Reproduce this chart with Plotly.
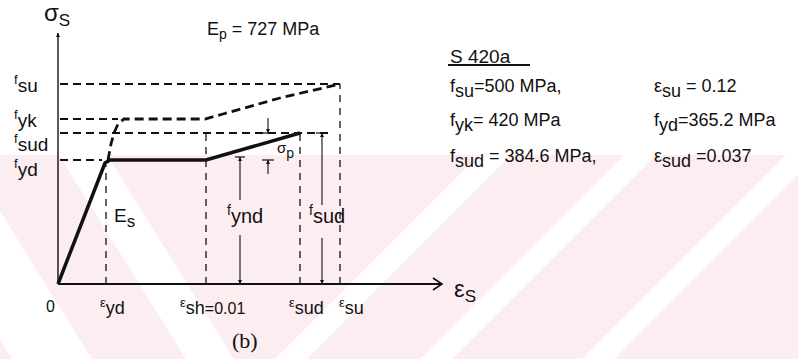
import plotly.graph_objects as go

# ---------------- data ----------------
steel_grade = "S 420a"
E_p_val = 727            # MPa
f_su_val = 500           # MPa
f_yk_val = 420           # MPa
f_sud_val = 384.6        # MPa
f_yd_val = 365.2         # MPa
eps_su_val = 0.12
eps_sud_val = 0.037
eps_sh_val = 0.01

# schematic (not-to-scale) diagram positions
strain_keys = ["0", "yd", "sh", "sud", "su"]
strain_pos = [0, 48, 148, 242, 282]
stress_keys = ["yd", "sud", "yk", "su"]
stress_pos = [124, 151, 165, 200]

# design curve (solid)
design_x = [0, 44, 47, 52, 148, 242]
design_y = [0, 114, 121, 124, 124, 151]
# characteristic curve (dashed)
char_x = [50, 53, 56, 60, 66, 147, 165, 222, 282]
char_y = [124, 140, 151, 160, 165, 165, 170, 186, 200]

# dimension marks: x position (schematic)
x_fynd = 182
x_fsud = 264
x_sigp = 210
axis_x_end = 384
axis_y_end = 251

EPS = dict(zip(strain_keys, strain_pos))
SIG = dict(zip(stress_keys, stress_pos))

FONT = "Liberation Sans, Arial, sans-serif"
BLACK = "#111111"

fig = go.Figure()


def line(xs, ys, width=1.5, dash=None, color=BLACK):
    fig.add_trace(go.Scatter(x=xs, y=ys, mode="lines",
                             line=dict(color=color, width=width, dash=dash),
                             hoverinfo="skip", showlegend=False))


def head(x, y, direction, size=4):
    fig.add_trace(go.Scatter(x=[x], y=[y], mode="markers",
                             marker=dict(symbol="arrow-" + direction, size=size,
                                         color=BLACK, line=dict(width=0)),
                             hoverinfo="skip", showlegend=False))


def varrow(x, y_tail, y_tip, width=1.1, size=4):
    line([x, x], [y_tail, y_tip], width=width)
    head(x, y_tip, "up" if y_tip > y_tail else "down", size=size)


def text(x, y, t, size=18, xanchor="center", yanchor="middle", family=FONT):
    fig.add_annotation(x=x, y=y, xref="x", yref="y", text=t, showarrow=False,
                       xanchor=xanchor, yanchor=yanchor,
                       font=dict(family=family, size=size, color=BLACK))


def sp(t, size, shift=0):
    st = f"font-size:{size}px"
    if shift:
        st += f";baseline-shift:{shift}px"
    return f"<span style='{st}'>{t}</span>"


# ---------------- watermark (faint background) ----------------
W, H = 798, 359


def ppath(pts):
    return "M " + " L ".join(f"{px / W:.4f},{1 - py / H:.4f}" for px, py in pts) + " Z"


PINK = "#fcedf0"
fig.add_shape(type="path", xref="paper", yref="paper", layer="below",
              path=ppath([(0, 155), (W, 155), (W, H), (0, H)]),
              fillcolor=PINK, line=dict(width=0))
for d0, hw in [(83, 24), (-75, 40)]:
    pts = [(d0 - hw, 155), (d0 + hw, 155), (d0 + hw + 127, H), (d0 - hw + 127, H)]
    fig.add_shape(type="path", xref="paper", yref="paper", layer="below",
                  path=ppath(pts), fillcolor="white", line=dict(width=0))
for c in [650, 795, 957]:
    hw = 16
    pts = [(c - 155 - hw, 155), (c - 155 + hw, 155), (c - H + hw, H), (c - H - hw, H)]
    fig.add_shape(type="path", xref="paper", yref="paper", layer="below",
                  path=ppath(pts), fillcolor="white", line=dict(width=0))

# ---------------- axes ----------------
line([0, 0], [0, axis_y_end], width=1.4)
head(0, axis_y_end, "up", size=4)
line([0, axis_x_end], [0, 0], width=1.9)
line([axis_x_end - 9, axis_x_end, axis_x_end - 9], [6, 0, -6], width=1.6)

# ---------------- dashed level lines ----------------
DASH_H = "8px,5px"
line([2, EPS["su"]], [SIG["su"]] * 2, width=2, dash=DASH_H)
line([2, char_x[3]], [SIG["yk"]] * 2, width=2, dash=DASH_H)
line([2, 272], [SIG["sud"]] * 2, width=2, dash=DASH_H)
line([2, design_x[1]], [SIG["yd"]] * 2, width=2, dash=DASH_H)

DASH_V = "7px,6px"
line([EPS["yd"]] * 2, [0, SIG["yd"] - 5], width=1.3, dash=DASH_V)
line([EPS["sh"]] * 2, [0, SIG["sud"]], width=1.3, dash=DASH_V)
line([EPS["sud"]] * 2, [0, SIG["sud"]], width=1.3, dash=DASH_V)
line([EPS["su"]] * 2, [0, SIG["su"]], width=1.3, dash=DASH_V)

# ---------------- curves ----------------
line(char_x, char_y, width=2.8, dash="9px,5px")
line(design_x, design_y, width=3.5)

# ---------------- dimension arrows ----------------
y_fynd_top = 127
line([x_fynd - 5, x_fynd + 5], [y_fynd_top] * 2, width=1.2)
varrow(x_fynd, 84, y_fynd_top)
varrow(x_fynd, 49, 0)

line([x_fsud - 6, x_fsud + 6], [SIG["sud"]] * 2, width=1.2)
varrow(x_fsud, 79, SIG["sud"])
varrow(x_fsud, 46, 0)

line([x_sigp - 6, x_sigp + 6], [SIG["sud"]] * 2, width=1.2)
varrow(x_sigp, 166, SIG["sud"])
line([x_sigp - 6, x_sigp + 6], [SIG["yd"]] * 2, width=1.2)
varrow(x_sigp, 110, SIG["yd"])

# ---------------- labels ----------------
text(-1, 270, "σ" + sp("S", 17, -5), size=24)
text(147, 254, "E" + sp("p", 14, -4) + f" = {E_p_val} MPa", size=18, xanchor="left")

left_labels = [("su", SIG["su"]), ("yk", SIG["yk"]), ("sud", SIG["sud"] - 10), ("yd", SIG["yd"] - 8)]
for s, yv in left_labels:
    text(-46, yv, sp("f", 13, 8) + s, size=19, xanchor="left")

text(54, 66, "E" + sp("s", 17, -5), size=19, xanchor="left")
text(x_fynd + 5, 70, sp("f", 14, 8) + "ynd", size=20)
text(x_fsud + 5, 70, sp("f", 14, 8) + "sud", size=20)
text(217, 134, sp("σ", 15) + sp("p", 14, -5), size=15, xanchor="left")

text(394, -6, "ε" + sp("S", 17, -5), size=24, xanchor="left")

yb = -22
text(-8, yb, "0", size=16)
text(EPS["yd"] + 6, yb, sp("ε", 13, 7) + "yd", size=18)
text(EPS["sh"] + 6, yb, sp("ε", 13, 7) + "sh" + sp(f"={eps_sh_val}", 16), size=18)
text(EPS["sud"] + 6, yb, sp("ε", 13, 7) + "sud", size=18)
text(EPS["su"] + 11, yb, sp("ε", 13, 7) + "su", size=18)

text(187, -56, "(b)", size=22, family="Liberation Serif, Times New Roman, serif")

xc1, xc2 = 390, 594


def spec(sym, subs, rest):
    return sym + sp(subs, 18, -5) + rest


text(xc1, 228, steel_grade, size=19, xanchor="left")
line([xc1, xc1 + 82], [219, 219], width=2)
text(xc1, 196, spec("f", "su", f"={f_su_val} MPa,"), size=18, xanchor="left")
text(xc1, 162, spec("f", "yk", f"= {f_yk_val} MPa"), size=18, xanchor="left")
text(xc1, 126, spec("f", "sud", f" = {f_sud_val} MPa,"), size=18, xanchor="left")
text(xc2, 196, spec("ε", "su", f" = {eps_su_val}"), size=18, xanchor="left")
text(xc2, 162, spec("f", "yd", f"={f_yd_val} MPa"), size=18, xanchor="left")
text(xc2, 126, spec("ε", "sud", f" ={eps_sud_val}"), size=18, xanchor="left")

fig.update_xaxes(range=[-58, 740], visible=False, fixedrange=True)
fig.update_yaxes(range=[-75, 284], visible=False, fixedrange=True)
fig.update_layout(width=798, height=359, margin=dict(l=0, r=0, t=0, b=0),
                  plot_bgcolor="white", paper_bgcolor="white", showlegend=False)

fig.write_html("out.html", config={"displayModeBar": False},
               post_script="document.body.style.margin='0px';")
